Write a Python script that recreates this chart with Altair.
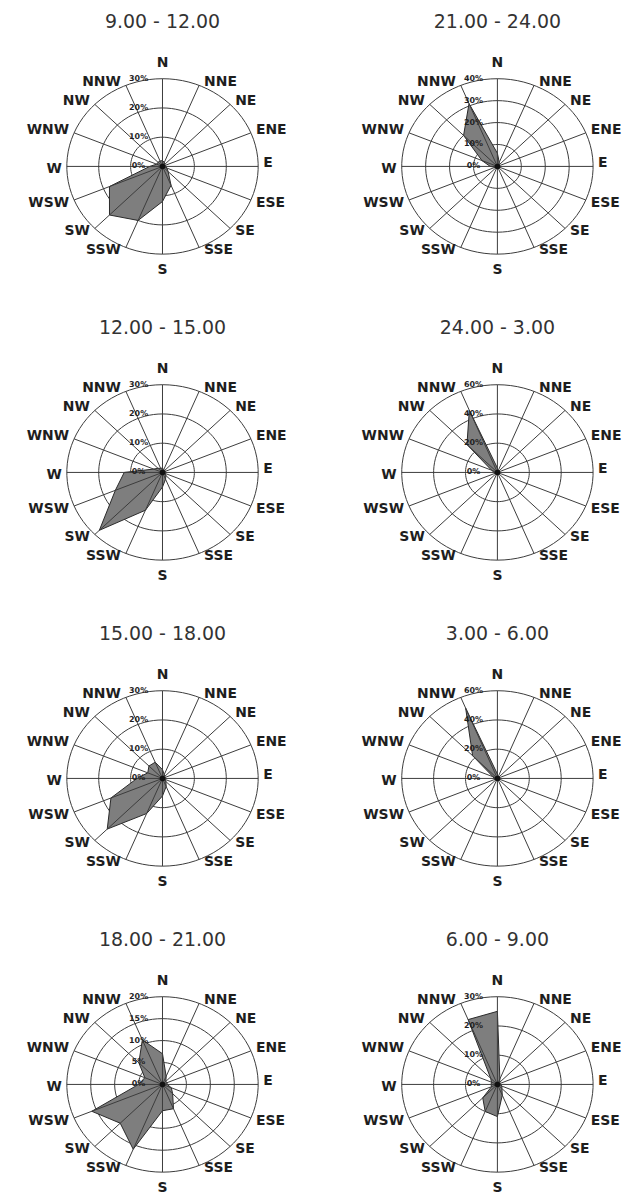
import altair as alt
import pandas as pd

# ---------------- data (percent frequency per direction) ----------------
directions = ["N", "NNE", "NE", "ENE", "E", "ESE", "SE", "SSE",
              "S", "SSW", "SW", "WSW", "W", "WNW", "NW", "NNW"]

periods = ["9.00 - 12.00", "21.00 - 24.00",
           "12.00 - 15.00", "24.00 - 3.00",
           "15.00 - 18.00", "3.00 - 6.00",
           "18.00 - 21.00", "6.00 - 9.00"]

freq_09_12 = [2, 1.5, 1, 1, 1, 1.5, 2.5, 7, 12, 20, 23.5, 18, 4, 2, 2, 2]
freq_21_24 = [6, 2, 1, 1, 1, 1, 1, 1, 1, 1, 1, 1, 3, 7, 20, 31]
freq_12_15 = [1.5, 1, 1, 1, 1, 1, 1.5, 2.5, 5, 14, 28, 16, 12, 3, 2, 1.5]
freq_24_03 = [3, 1, 1, 1, 1, 1, 1, 1, 1, 1, 1, 1, 2, 4, 27, 46]
freq_15_18 = [3, 1.5, 1, 1, 1, 1, 1.5, 3, 6, 13, 24.5, 17.5, 8, 5, 6, 6]
freq_03_06 = [3, 1, 1, 1, 1, 1, 1, 1, 1, 1, 1, 1, 2, 3, 22, 52]
freq_18_21 = [7, 2, 1, 1, 1, 2, 3, 6, 6, 16, 12.5, 16, 5, 4, 7, 11]
freq_06_09 = [25, 2, 1, 1, 1, 1.5, 2, 4, 11, 10, 6.5, 2, 2, 2, 3, 24]

rings_09_12 = [10, 20, 30]
rings_21_24 = [10, 20, 30, 40]
rings_12_15 = [10, 20, 30]
rings_24_03 = [20, 40, 60]
rings_15_18 = [10, 20, 30]
rings_03_06 = [20, 40, 60]
rings_18_21 = [5, 10, 15, 20]
rings_06_09 = [10, 20, 30]

freqs = [freq_09_12, freq_21_24, freq_12_15, freq_24_03,
         freq_15_18, freq_03_06, freq_18_21, freq_06_09]
rings = [rings_09_12, rings_21_24, rings_12_15, rings_24_03,
         rings_15_18, rings_03_06, rings_18_21, rings_06_09]

# ---------------- style ----------------
GRID = "#3c3c3c"
FILL = "#7e7e7e"
FONT = "DejaVu Sans"
PX_X = 96.0   # pixels per outer-ring radius (horizontal)
PX_Y = 88.0   # pixels per outer-ring radius (vertical)
LEFT, RIGHT, TOP, BOTTOM = 155, 124, 122, 108
W, H = LEFT + RIGHT, TOP + BOTTOM
xs = alt.Scale(domain=[-LEFT / PX_X, RIGHT / PX_X], nice=False, zero=False)
ys = alt.Scale(domain=[-BOTTOM / PX_Y, TOP / PX_Y], nice=False, zero=False)


def X(f):
    return alt.X(f, type="quantitative", scale=xs, axis=None)


def Y(f):
    return alt.Y(f, type="quantitative", scale=ys, axis=None)


dir_df = pd.DataFrame({"dir": directions, "idx": list(range(16))})


def panel(period, freq, ring_vals):
    rmax = max(ring_vals)
    ring_df = pd.DataFrame(
        [(r, a) for r in ring_vals for a in range(0, 361, 4)], columns=["ring", "ang"]
    )
    ring_df["rmax"] = rmax
    ring_layer = alt.Chart(ring_df).transform_calculate(
        x="datum.ring / datum.rmax * sin(datum.ang * PI / 180)",
        y="datum.ring / datum.rmax * cos(datum.ang * PI / 180)",
    ).mark_line(stroke=GRID, strokeWidth=1).encode(
        x=X("x"), y=Y("y"), detail="ring:N", order="ang:Q"
    )

    spoke_layer = alt.Chart(dir_df).transform_calculate(
        t="datum.idx * PI / 8", x0="0", y0="0",
        x2="sin(datum.t)", y2="cos(datum.t)",
    ).mark_rule(stroke=GRID, strokeWidth=1).encode(
        x=X("x0"), y=Y("y0"), x2="x2:Q", y2="y2:Q"
    )

    poly_df = pd.DataFrame({"dir": directions, "idx": list(range(16)), "value": freq})
    poly_df["rmax"] = rmax
    poly_layer = alt.Chart(poly_df).transform_calculate(
        t="datum.idx * PI / 8",
        r="datum.value / datum.rmax",
        x="datum.r * sin(datum.t)",
        y="datum.r * cos(datum.t)",
    ).mark_line(
        interpolate="linear-closed", fill=FILL, stroke="#2a2a2a", strokeWidth=1
    ).encode(x=X("x"), y=Y("y"), order="idx:Q", fill=alt.value(FILL))

    center = alt.Chart(dir_df).transform_filter("datum.idx == 0").mark_point(
        filled=True, color="#111111", size=30, opacity=1
    ).encode(x=alt.datum(0, scale=xs, axis=None), y=alt.datum(0, scale=ys, axis=None))

    lab_base = alt.Chart(dir_df).transform_calculate(
        t="datum.idx * PI / 8",
        s="sin(datum.t)",
        c="cos(datum.t)",
    ).transform_calculate(
        lx="datum.s + (abs(datum.s) < 0.01 ? 0 : (datum.s > 0 ? 5 : -5) / %f)" % PX_X,
        ly="abs(datum.s) < 0.01 ? datum.c * 1.18 : datum.c + (datum.c > 0 ? 3 : -3) / %f" % PX_Y,
    )
    txt = dict(font=FONT, fontWeight="bold", fontSize=14, color="#1e1e1e", baseline="middle")
    east = lab_base.transform_filter("datum.s > 0.01").mark_text(align="left", **txt).encode(
        x=X("lx"), y=Y("ly"), text="dir:N")
    west = lab_base.transform_filter("datum.s < -0.01").mark_text(align="right", **txt).encode(
        x=X("lx"), y=Y("ly"), text="dir:N")
    ns = lab_base.transform_filter("abs(datum.s) <= 0.01").mark_text(align="center", **txt).encode(
        x=X("lx"), y=Y("ly"), text="dir:N")

    rl_df = pd.DataFrame({"ring": [0] + list(ring_vals)})
    rl_df["rmax"] = rmax
    rl_df["label"] = [f"{v}%" for v in rl_df["ring"]]
    ring_labels = alt.Chart(rl_df).transform_calculate(
        lx="-24 / %f" % PX_X, ly="datum.ring / datum.rmax"
    ).mark_text(
        font=FONT, fontWeight="bold", fontSize=8, color="#1e1e1e",
        align="center", baseline="middle"
    ).encode(x=X("lx"), y=Y("ly"), text="label:N")

    return alt.layer(
        ring_layer, poly_layer, spoke_layer, center, east, west, ns, ring_labels
    ).properties(
        width=W, height=H,
        title=alt.TitleParams(
            text=period, fontSize=19, font=FONT, fontWeight="normal",
            color="#333333", anchor="middle", dx=(LEFT - RIGHT) / 2, offset=13,
        ),
    )


rows = []
for i in range(0, 8, 2):
    rows.append(alt.hconcat(
        panel(periods[i], freqs[i], rings[i]),
        panel(periods[i + 1], freqs[i + 1], rings[i + 1]),
        spacing=56,
    ))

chart = alt.vconcat(*rows, spacing=42).properties(
    padding={"left": 0, "top": 3, "right": 0, "bottom": 0},
    background="white",
).configure_view(stroke=None)

chart.save("out.html", embed_options={"renderer": "svg", "actions": False})
